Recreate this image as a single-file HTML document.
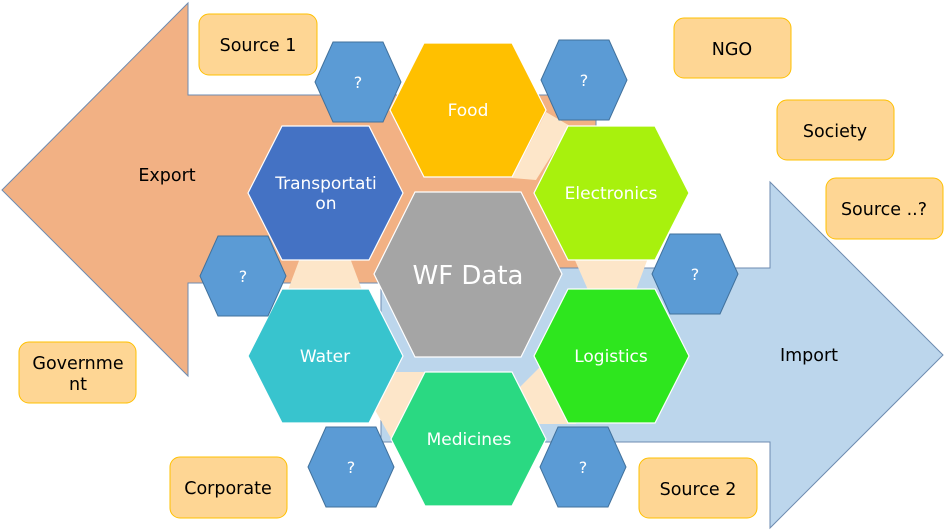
<!DOCTYPE html>
<html><head><meta charset="utf-8"><style>
html,body{margin:0;padding:0;background:#fff;}
svg{display:block;font-family:"DejaVu Sans","Liberation Sans",sans-serif;}
</style></head><body>
<svg width="944" height="530" viewBox="0 0 944 530" xmlns="http://www.w3.org/2000/svg">
<polygon points="2,190 188,3 188,95 596,95 596,283 188,283 188,376" fill="#f2b184" stroke="#6d8bb0" stroke-width="1"/>
<polygon points="381,268 770,268 770,182 943,355 770,528 770,442 381,442" fill="#bcd6ec" stroke="#6d8bb0" stroke-width="1"/>
<g fill="#fde6c9">
<polygon points="512,178 546,112 570,126 536,180"/>
<polygon points="300,258 350,258 362,290 288,290"/>
<polygon points="574,258 648,258 636,290 588,290"/>
<polygon points="385,372 430,372 392,440 375,410"/>
<polygon points="515,392 545,362 576,424 530,424"/>
</g>
<g stroke="#ffffff" stroke-width="1.2">
<polygon fill="#ffc000" points="390,110 424,43 512,43 546,110 512,177 424,177"/>
<polygon fill="#4472c4" points="248,193 282,126 369,126 403,193 369,260 282,260"/>
<polygon fill="#a8f10d" points="534,193 568,126 655,126 689,193 655,260 568,260"/>
<polygon fill="#a5a5a5" points="374,274 415,192 521,192 562,274 521,357 415,357"/>
<polygon fill="#38c4ce" points="248,356 282,289 369,289 403,356 369,423 282,423"/>
<polygon fill="#2ee61e" points="534,356 568,289 655,289 689,356 655,423 568,423"/>
<polygon fill="#2ad982" points="391,439 425,372 512,372 546,439 512,506 425,506"/>
</g>
<g fill="#5b9bd5" stroke="#41719c" stroke-width="1">
<polygon points="315,82 333,42 383,42 401,82 383,122 333,122"/>
<polygon points="541,80 559,40 609,40 627,80 609,120 559,120"/>
<polygon points="200,276 218,236 268,236 286,276 268,316 218,316"/>
<polygon points="652,274 670,234 720,234 738,274 720,314 670,314"/>
<polygon points="308,467 326,427 376,427 394,467 376,507 326,507"/>
<polygon points="540,467 558,427 608,427 626,467 608,507 558,507"/>
</g>
<g fill="#fed694" stroke="#ffc000" stroke-width="1">
<rect x="199" y="14" width="118" height="61" rx="10"/>
<rect x="674" y="18" width="117" height="60" rx="10"/>
<rect x="777" y="100" width="117" height="60" rx="10"/>
<rect x="826" y="178" width="117" height="61" rx="10"/>
<rect x="19" y="342" width="117" height="61" rx="10"/>
<rect x="170" y="457" width="117" height="61" rx="10"/>
<rect x="639" y="458" width="118" height="60" rx="10"/>
</g>
<g fill="#000" font-size="17.5" text-anchor="middle">
<text x="258" y="51">Source 1</text>
<text x="732" y="55">NGO</text>
<text x="835" y="137">Society</text>
<text x="884" y="215">Source ..?</text>
<text x="78" y="369">Governme</text>
<text x="78" y="390">nt</text>
<text x="228" y="494">Corporate</text>
<text x="698" y="495">Source 2</text>
<text x="167" y="181">Export</text>
<text x="809" y="361">Import</text>
</g>
<g fill="#fff" font-size="17" text-anchor="middle">
<text x="468" y="116">Food</text>
<text x="326" y="189">Transportati</text>
<text x="326" y="209">on</text>
<text x="611" y="199">Electronics</text>
<text x="325" y="362">Water</text>
<text x="611" y="362">Logistics</text>
<text x="469" y="445">Medicines</text>
<text x="468" y="284" font-size="26">WF Data</text>
</g>
<g fill="#fff" font-size="16" text-anchor="middle">
<text x="358" y="88">?</text>
<text x="584" y="86">?</text>
<text x="243" y="282">?</text>
<text x="695" y="280">?</text>
<text x="351" y="473">?</text>
<text x="583" y="473">?</text>
</g>
</svg>
</body></html>
